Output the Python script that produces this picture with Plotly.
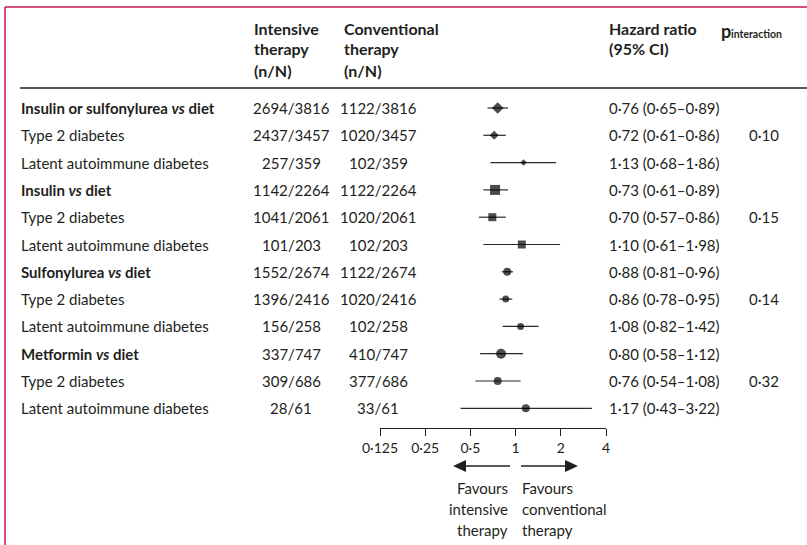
import math
import plotly.graph_objects as go

# ---- data -------------------------------------------------------------
labels = [
    "<b>Insulin or sulfonylurea <i>vs</i> diet</b>",
    "Type 2 diabetes",
    "Latent autoimmune diabetes",
    "<b>Insulin <i>vs</i> diet</b>",
    "Type 2 diabetes",
    "Latent autoimmune diabetes",
    "<b>Sulfonylurea <i>vs</i> diet</b>",
    "Type 2 diabetes",
    "Latent autoimmune diabetes",
    "<b>Metformin <i>vs</i> diet</b>",
    "Type 2 diabetes",
    "Latent autoimmune diabetes",
]
intensive = ["2694/3816", "2437/3457", "257/359", "1142/2264", "1041/2061", "101/203",
             "1552/2674", "1396/2416", "156/258", "337/747", "309/686", "28/61"]
conventional = ["1122/3816", "1020/3457", "102/359", "1122/2264", "1020/2061", "102/203",
                "1122/2674", "1020/2416", "102/258", "410/747", "377/686", "33/61"]
hr = [0.76, 0.72, 1.13, 0.73, 0.70, 1.10, 0.88, 0.86, 1.08, 0.80, 0.76, 1.17]
ci_low = [0.65, 0.61, 0.68, 0.61, 0.57, 0.61, 0.81, 0.78, 0.82, 0.58, 0.54, 0.43]
ci_high = [0.89, 0.86, 1.86, 0.89, 0.86, 1.98, 0.96, 0.95, 1.42, 1.12, 1.08, 3.22]
p_interaction = ["", "0·10", "", "", "0·15", "", "", "0·14", "", "", "0·32", ""]

tick_vals = [0.125, 0.25, 0.5, 1, 2, 4]
tick_text = ["0·125", "0·25", "0·5", "1", "2", "4"]

# marker style per row (diamond / square / circle groups)
symbols = ["diamond"] * 3 + ["square"] * 3 + ["circle"] * 6
sizes = [9, 7, 5, 10, 8, 8, 8, 7, 7, 10, 8, 8]

# ---- layout constants ---------------------------------------------------
W, H = 807, 545
FONT = "Lato"
INK = "#231f20"
RED = "#c4174a"
ROW0, ROWSTEP = 108, 27.3
BODY = 15
HEAD = 16


def px(x):
    return x / W


def py(y):
    return 1 - y / H


def dot(v):
    return f"{v:.2f}".replace(".", "·")


n = len(labels)
rows = list(range(n))

fig = go.Figure()

# confidence interval segments
cx, cy = [], []
for i in rows:
    cx += [ci_low[i], ci_high[i], None]
    cy += [i, i, None]
fig.add_trace(go.Scatter(x=cx, y=cy, mode="lines",
                         line=dict(color="#2a2a2a", width=1.2),
                         hoverinfo="skip", showlegend=False))

# point estimates
fig.add_trace(go.Scatter(x=hr, y=rows, mode="markers",
                         marker=dict(symbol=symbols, size=sizes, color="#000000",
                                     line=dict(width=0)),
                         showlegend=False))

ann = []


def text(x, y, s, anchor="left", size=BODY, yref="paper", color=INK):
    ann.append(dict(x=x, y=y, xref="paper", yref=yref, text=s, showarrow=False,
                    xanchor=anchor, yanchor="middle",
                    font=dict(family=FONT, size=size, color=color)))


# table body
for i in rows:
    text(px(19), i, labels[i], yref="y")
    text(px(291), i, intensive[i], anchor="center", yref="y")
    text(px(378), i, conventional[i], anchor="center", yref="y")
    text(px(607), i, f"{dot(hr[i])} ({dot(ci_low[i])}–{dot(ci_high[i])})", yref="y")
    if p_interaction[i]:
        text(px(747), i, p_interaction[i], yref="y")

# column headers
for k, line in enumerate(["Intensive", "therapy", "(n/N)"]):
    text(px(252), py(28 + 21 * k), f"<b>{line}</b>", size=HEAD)
for k, line in enumerate(["Conventional", "therapy", "(n/N)"]):
    text(px(342), py(28 + 21 * k), f"<b>{line}</b>", size=HEAD)
for k, line in enumerate(["Hazard ratio", "(95% CI)"]):
    text(px(607), py(28 + 21 * k), f"<b>{line}</b>", size=HEAD)
text(px(719), py(31), "<b>p</b>", size=18)
text(px(729), py(34), "<b>interaction</b>", size=10.5)

# direction labels under the axis
for k, line in enumerate(["Favours", "intensive", "therapy"]):
    text(px(510), py(488 + 21 * k), line, anchor="right")
for k, line in enumerate(["Favours", "conventional", "therapy"]):
    text(px(520), py(488 + 21 * k), line, anchor="left")

shapes = [
    # frame
    dict(type="line", xref="paper", yref="paper", x0=px(5), x1=1, y0=py(7), y1=py(7),
         line=dict(color=RED, width=1.5)),
    dict(type="line", xref="paper", yref="paper", x0=px(5), x1=px(5), y0=py(7), y1=0,
         line=dict(color=RED, width=1.5)),
    # header rule
    dict(type="line", xref="paper", yref="paper", x0=px(20), x1=1, y0=py(88), y1=py(88),
         line=dict(color=INK, width=1.3)),
    # line of no effect
    dict(type="line", xref="x", yref="paper", x0=0, x1=0, y0=py(88), y1=py(428),
         line=dict(color="#555555", width=1.5)),
    # arrows
    dict(type="line", xref="paper", yref="paper", x0=px(465), x1=px(510), y0=py(466), y1=py(466),
         line=dict(color=INK, width=1.5)),
    dict(type="path", xref="paper", yref="paper", fillcolor=INK, line=dict(width=0),
         path=f"M {px(453)},{py(466)} L {px(466)},{py(460)} L {px(466)},{py(472)} Z"),
    dict(type="line", xref="paper", yref="paper", x0=px(521), x1=px(566), y0=py(466), y1=py(466),
         line=dict(color=INK, width=1.5)),
    dict(type="path", xref="paper", yref="paper", fillcolor=INK, line=dict(width=0),
         path=f"M {px(578)},{py(466)} L {px(565)},{py(460)} L {px(565)},{py(472)} Z"),
]

fig.update_layout(
    width=W, height=H,
    margin=dict(l=0, r=0, t=0, b=0, pad=0, autoexpand=False),
    paper_bgcolor="white", plot_bgcolor="white",
    showlegend=False,
    xaxis=dict(type="log", domain=[px(380), px(606)],
               range=[math.log10(0.125), math.log10(4)],
               tickvals=tick_vals, ticktext=tick_text,
               ticks="outside", ticklen=7, tickwidth=1.2, tickcolor=INK,
               showline=True, linecolor=INK, linewidth=1.2,
               showgrid=False, zeroline=False, automargin=False,
               anchor="free", position=py(428),
               tickfont=dict(family=FONT, size=14, color=INK)),
    yaxis=dict(domain=[0, 1], automargin=False,
               range=[(H - ROW0) / ROWSTEP, -ROW0 / ROWSTEP],
               visible=False, showgrid=False, zeroline=False),
    annotations=ann,
    shapes=shapes,
)

fig.write_html("out.html")
